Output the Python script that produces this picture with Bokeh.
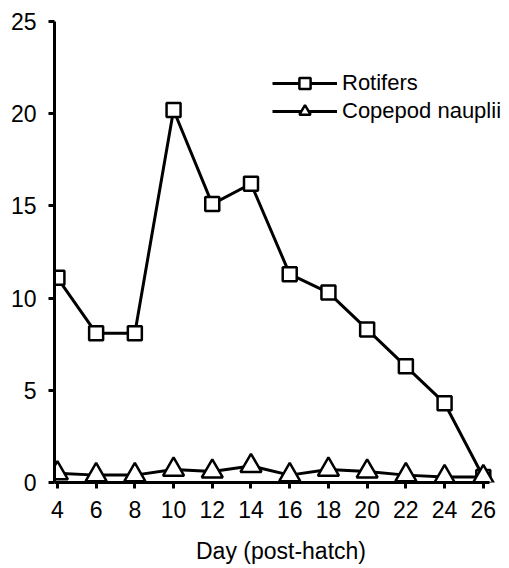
from bokeh.plotting import figure
from bokeh.models import Range1d, FixedTicker, Legend, LegendItem
from bokeh.embed import file_html
from bokeh.resources import INLINE

days = [4, 6, 8, 10, 12, 14, 16, 18, 20, 22, 24, 26]
rotifers = [11.1, 8.1, 8.1, 20.2, 15.1, 16.2, 11.3, 10.3, 8.3, 6.3, 4.3, 0.3]
copepods = [0.5, 0.4, 0.4, 0.7, 0.6, 0.9, 0.4, 0.7, 0.6, 0.4, 0.3, 0.3]
x_ticks = [4, 6, 8, 10, 12, 14, 16, 18, 20, 22, 24, 26]
y_ticks = [0, 5, 10, 15, 20, 25]
x_label = "Day (post-hatch)"
series_names = ["Rotifers", "Copepod nauplii"]

FONT = "Liberation Sans"

p = figure(width=508, height=566, output_backend="svg", toolbar_location=None,
           x_range=Range1d(3.85, 27.25), y_range=Range1d(0, 25),
           min_border_left=54, min_border_right=1, min_border_top=21, min_border_bottom=60)
p.outline_line_color = None
p.grid.visible = False
p.background_fill_color = "white"

for ax in (p.xaxis[0], p.yaxis[0]):
    ax.axis_line_width = 3
    ax.axis_line_color = "black"
    ax.major_tick_line_width = 3
    ax.major_tick_line_color = "black"
    ax.major_tick_in = 0
    ax.major_tick_out = 6
    ax.minor_tick_line_color = None
    ax.major_label_text_font = FONT
    ax.major_label_text_font_size = "23px"
    ax.major_label_text_color = "black"

p.xaxis[0].bounds = (3.85, 26.3)
p.xaxis[0].ticker = FixedTicker(ticks=x_ticks)
p.yaxis[0].ticker = FixedTicker(ticks=y_ticks)
p.xaxis[0].major_label_standoff = 12
p.yaxis[0].major_label_standoff = 12
p.xaxis[0].axis_label = x_label
p.xaxis[0].axis_label_text_font = FONT
p.xaxis[0].axis_label_text_font_size = "23px"
p.xaxis[0].axis_label_text_font_style = "normal"
p.xaxis[0].axis_label_text_color = "black"
p.xaxis[0].axis_label_standoff = 17

r_line = p.line(days, rotifers, line_width=3, line_color="black")
r_pts = p.scatter(days, rotifers, marker="square", size=14, fill_color="white",
                  line_color="black", line_width=2.5)
c_line = p.line(days, copepods, line_width=3, line_color="black")
c_pts = p.scatter(days, copepods, marker="triangle", size=21, fill_color="white",
                  line_color="black", line_width=2.5)

legend = Legend(items=[LegendItem(label=series_names[0], renderers=[r_line, r_pts]),
                       LegendItem(label=series_names[1], renderers=[c_line, c_pts])],
                location=(218, 357))
legend.glyph_width = 65
legend.glyph_height = 28
legend.label_height = 20
legend.spacing = 0
legend.padding = 0
legend.margin = 0
legend.label_standoff = 5
legend.border_line_color = None
legend.background_fill_alpha = 0
legend.label_text_font = FONT
legend.label_text_font_size = "22px"
legend.label_text_color = "black"
p.add_layout(legend)

open("out.html", "w").write(file_html(p, INLINE))
